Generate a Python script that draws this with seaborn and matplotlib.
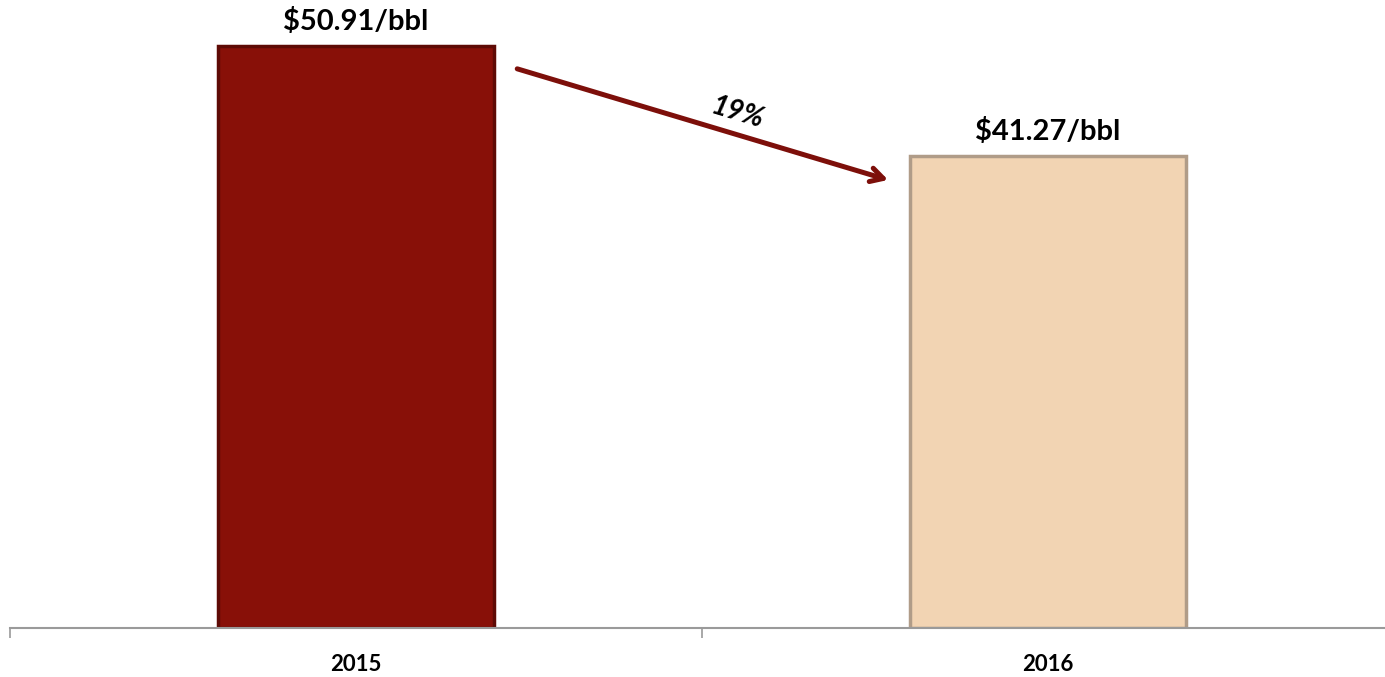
import matplotlib
matplotlib.use('Agg')
import matplotlib.pyplot as plt
import seaborn as sns
import pandas as pd

years = ['2015', '2016']
prices = [50.91, 41.27]
bar_colors = ['#881008', '#F2D4B3']
edge_colors = ['#5E0A05', '#B09C88']

sns.set_style('white')
plt.rcParams['font.family'] = ['Lato', 'DejaVu Sans']

df = pd.DataFrame({'year': years, 'price': prices})

fig = plt.figure(figsize=(13.85, 6.77), dpi=100)
ax = fig.add_axes([10 / 1385, 49 / 677, 1384 / 1385, 628 / 677])

sns.barplot(data=df, x='year', y='price', hue='year', palette=bar_colors,
            width=0.4, legend=False, ax=ax, saturation=1)

for cont, ec, lab in zip(ax.containers, edge_colors, prices):
    for bar in cont:
        bar.set_edgecolor(ec)
        bar.set_linewidth(2.5)
    ax.bar_label(cont, labels=[f'${lab:.2f}/bbl'], padding=8,
                 fontsize=21, fontweight='bold', color='black')

ax.set_xlim(-0.5, 1.5)
ax.set_ylim(0, 54.93)

# change arrow between the bar tops
x0 = 0.2 + 0.033
x1 = 0.8 - 0.031
y0 = prices[0] - 2.0
y1 = prices[1] - 2.08
arrow_color = '#7D0F0A'
ax.annotate('', xy=(x1, y1), xytext=(x0, y0),
            arrowprops=dict(arrowstyle='->,head_length=0.9,head_width=0.5',
                            color=arrow_color, lw=3.6, shrinkA=0, shrinkB=0))
pct = round((prices[0] - prices[1]) / prices[0] * 100)
ax.text(0.551, 45.05, f'{pct}%', rotation=-16.7, rotation_mode='anchor',
        ha='center', va='center', fontsize=20, fontweight='bold',
        fontstyle='italic', color='black')

for s in ['top', 'right', 'left']:
    ax.spines[s].set_visible(False)
ax.spines['bottom'].set_color('#9A9A9A')
ax.spines['bottom'].set_linewidth(1.5)

ax.set_yticks([])
ax.set_xticks([0, 1])
ax.set_xticklabels(years)
for t in ax.get_xticklabels():
    t.set_fontsize(16)
    t.set_fontweight('bold')
    t.set_color('black')
ax.set_xticks([-0.5, 0.5, 1.5], minor=True)
ax.tick_params(axis='x', which='major', length=0, pad=19)
ax.tick_params(axis='x', which='minor', length=7, width=1.2, color='#9A9A9A',
               direction='out', bottom=True)
ax.set_xlabel('')
ax.set_ylabel('')

fig.savefig('out.png', dpi=100)
